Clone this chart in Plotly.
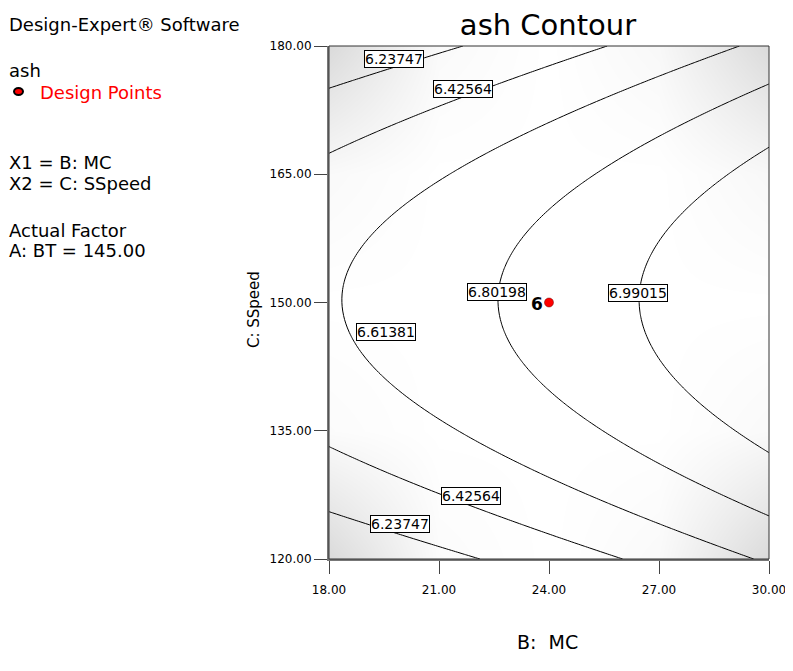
import numpy as np
import plotly.graph_objects as go

# factor ranges (actual units)
mc_range = [18.0, 30.0]
speed_range = [120.0, 180.0]
mc_ticks = [18, 21, 24, 27, 30]
speed_ticks = [120, 135, 150, 165, 180]

# fitted quadratic model for ash in coded units (A: BT held at 145.00)
coef_intercept = 6.868
coef_mc = 0.2896
coef_speed = 0.0106
coef_mc2 = 0.0208
coef_speed2 = -0.531

# contour levels drawn by Design-Expert
levels = [6.23747, 6.42564, 6.61381, 6.80198, 6.99015]

# where each level label sits (MC, SSpeed)
label_text = ["6.23747", "6.42564", "6.61381", "6.80198", "6.99015", "6.42564", "6.23747"]
label_mc = [19.77, 21.65, 19.55, 22.57, 26.43, 21.87, 19.94]
label_speed = [178.5, 175.0, 146.6, 151.2, 151.1, 127.4, 124.1]

# design points (centre point replicated 6 times)
point_mc = [24.0]
point_speed = [150.0]
point_reps = ["6"]

# prediction std-error shading (rows = speed, cols = MC)
se_shade = [
    [1.00, 0.10, 0.00, 0.15, 1.00],
    [0.10, 0.00, 0.00, 0.00, 0.15],
    [0.00, 0.00, 0.00, 0.00, 0.00],
    [0.15, 0.00, 0.00, 0.00, 0.20],
    [1.00, 0.15, 0.00, 0.20, 1.00],
]

mc = np.linspace(mc_range[0], mc_range[1], 121)
speed = np.linspace(speed_range[0], speed_range[1], 121)
xb, xc = np.meshgrid((mc - 24) / 6, (speed - 150) / 30)
ash = (coef_intercept + coef_mc * xb + coef_speed * xc
       + coef_mc2 * xb ** 2 + coef_speed2 * xc ** 2)

FONT = "DejaVu Sans, Liberation Sans, Arial, sans-serif"

# figure pixel geometry (page body adds 8px)
W, H = 785, 663
L, R, T, B = 321, 24, 38, 112
PW, PH = W - L - R, H - T - B


def px(x):
    return (x - L) / PW


def py(y):
    return 1 - (y - T) / PH


fig = go.Figure()
fig.add_trace(go.Heatmap(
    x=mc_ticks, y=speed_ticks, z=se_shade, zsmooth="best",
    colorscale=[[0, "#ffffff"], [1, "#dadada"]], zmin=0, zmax=1,
    showscale=False, hoverinfo="skip",
))
fig.add_trace(go.Contour(
    x=mc, y=speed, z=ash,
    contours=dict(start=levels[0], end=levels[-1],
                  size=levels[1] - levels[0], coloring="none"),
    line=dict(color="black", width=1),
    showscale=False, hoverinfo="skip",
))
fig.add_trace(go.Scatter(
    x=point_mc, y=point_speed, mode="markers",
    marker=dict(color="red", size=9, line=dict(color="#600", width=0.5)),
    hoverinfo="skip",
))

for t, bx, cy in zip(label_text, label_mc, label_speed):
    fig.add_annotation(x=bx, y=cy, text=t, showarrow=False,
                       font=dict(family=FONT, size=14, color="black"),
                       bgcolor="white", bordercolor="black", borderwidth=1,
                       borderpad=0)

for bx, cy, n in zip(point_mc, point_speed, point_reps):
    fig.add_annotation(x=bx, y=cy, text=f"<b>{n}</b>", showarrow=False,
                       xanchor="right", xshift=-4, yshift=-1,
                       font=dict(family=FONT, size=17, color="black"))

# plot frame
fig.add_shape(type="rect", xref="paper", yref="paper", x0=0, y0=0, x1=1, y1=1,
              line=dict(color="#333", width=1), layer="above")

# side text block
side = [
    (17, "Design-Expert® Software", "black", 0),
    (62, "ash", "black", 0),
    (84, "Design Points", "red", 31),
    (154, "X1 = B: MC", "black", 0),
    (175, "X2 = C: SSpeed", "black", 0),
    (222, "Actual Factor", "black", 0),
    (242, "A: BT = 145.00", "black", 0),
]
for ypx, t, col, xpx in side:
    fig.add_annotation(xref="paper", yref="paper", x=px(xpx), y=py(ypx),
                       text=t, showarrow=False, xanchor="left", yanchor="middle",
                       borderpad=0, font=dict(family=FONT, size=18, color=col))
fig.add_shape(type="circle", xref="paper", yref="paper",
              x0=px(6), x1=px(15), y0=py(87), y1=py(80),
              fillcolor="red", line=dict(color="black", width=2))

# axis titles
fig.add_annotation(xref="paper", yref="paper", x=px(539), y=py(647),
                   text="B:  MC", showarrow=False,
                   font=dict(family=FONT, size=19, color="black"))
fig.add_annotation(xref="paper", yref="paper", x=px(235), y=py(302),
                   text="C: SSpeed", showarrow=False, textangle=-90,
                   font=dict(family=FONT, size=15, color="black"))

fig.update_layout(
    width=W, height=H,
    margin=dict(l=L, r=R, t=T, b=B, autoexpand=False),
    paper_bgcolor="white", plot_bgcolor="white",
    showlegend=False,
    title=dict(text="ash Contour", x=540 / W, xanchor="center", y=1 - 17 / H,
               yanchor="middle", font=dict(family=FONT, size=29, color="black")),
    font=dict(family=FONT, size=12, color="black"),
    xaxis=dict(range=mc_range, tickvals=mc_ticks,
               ticktext=[f"{v:.2f}" for v in mc_ticks],
               ticks="outside", ticklen=13, tickcolor="#444",
               ticklabelstandoff=6,
               showline=True, linecolor="#777", linewidth=2,
               showgrid=False, zeroline=False, automargin=False),
    yaxis=dict(range=speed_range, tickvals=speed_ticks,
               ticktext=[f"{v:.2f}" for v in speed_ticks],
               ticks="outside", ticklen=13, tickcolor="#444",
               showline=True, linecolor="#777", linewidth=2,
               showgrid=False, zeroline=False, automargin=False),
)

fig.write_html("out.html")
